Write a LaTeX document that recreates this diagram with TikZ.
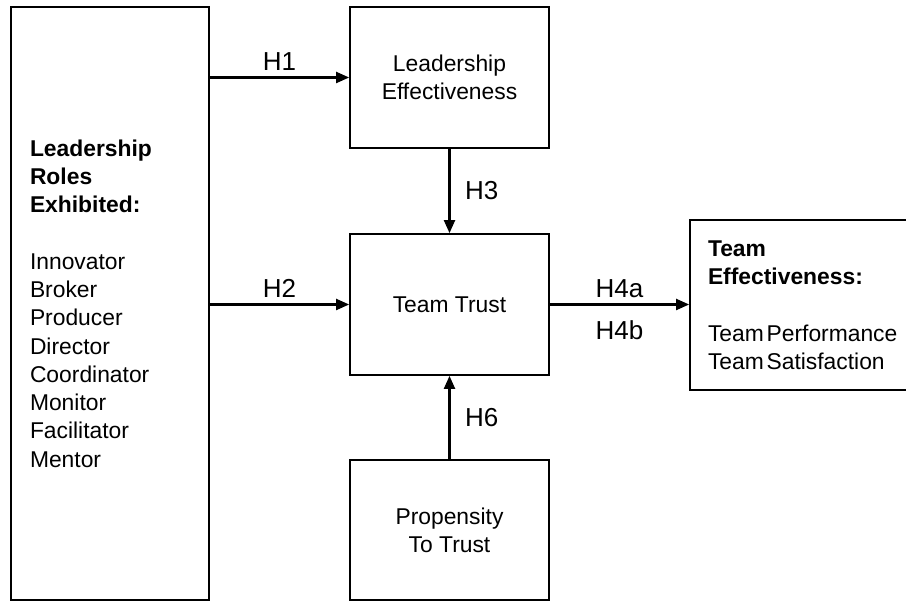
\documentclass[tikz,border=0pt]{standalone}
\usepackage{fontspec}
\setmainfont{Liberation Sans}
\usepackage{xcolor}
\usetikzlibrary{
    arrows.meta,
    shapes,
    positioning,
    calc
}
\tikzset{%
    >={Triangle[width=2.2mm,length=2.6mm]},
    % Specifications for style of nodes:
    plain/.style = {},
    base/.style = {
        plain,
        rectangle, draw=black, line width=1pt,
        minimum width=3.98cm, minimum height=2.82cm,
        font=\fontsize{13pt}{16.1pt}\selectfont,
        fill=white
    },
    box/.style = {base, align=center},
    list/.style = {base, align=left},
    hyp/.style = {font=\fontsize{14.8pt}{17pt}\selectfont},
    link/.style = {->, line width=1.2pt}
}

\begin{document}
\begin{tikzpicture}
    \useasboundingbox (0,0) rectangle (18.12,-12.02);
    \clip (0,0) rectangle (18.12,-12.02);
    \node[list, minimum width=3.96cm, minimum height=11.86cm, inner xsep=0.38cm, text width=3.2cm] (LR) at (2.20,-6.07)
        {\textbf{Leadership}\\ \textbf{Roles}\\ \textbf{Exhibited:}\\[16.1pt]
         Innovator\\ Broker\\ Producer\\ Director\\ Coordinator\\ Monitor\\ Facilitator\\ Mentor};
    \node[box] (LE) at (8.99,-1.55) {Leadership\\ Effectiveness};
    \node[box] (TT) at (8.99,-6.09) {Team Trust};
    \node[box, minimum height=2.80cm] (PT) at (8.99,-10.60) {Propensity\\ To Trust};
    % narrow word space, as in the boxed list on the right
    \node[list, minimum width=5.02cm, minimum height=3.40cm, inner xsep=0.36cm, text width=4.3cm] (TE) at (16.31,-6.10)
        {\textbf{Team}\\ \textbf{Effectiveness:}\\[16.1pt]
         Team\hspace{0.12em}Performance\\ Team\hspace{0.12em}Satisfaction};
    \draw[link] (LR.east |- LE.west) -- node[hyp, above] {H1} (LE.west);
    \draw[link] (LR.east |- TT.west) -- node[hyp, above] {H2} (TT.west);
    \draw[link] (LE.south) -- node[hyp, right=5pt] {H3} (TT.north);
    \draw[link] (PT.north) -- node[hyp, right=5pt] {H6} (TT.south);
    \draw[link] (TT.east) -- node[hyp, above] {H4a} node[hyp, below=5pt] {H4b} (TE.west |- TT.east);
\end{tikzpicture}
\end{document}
